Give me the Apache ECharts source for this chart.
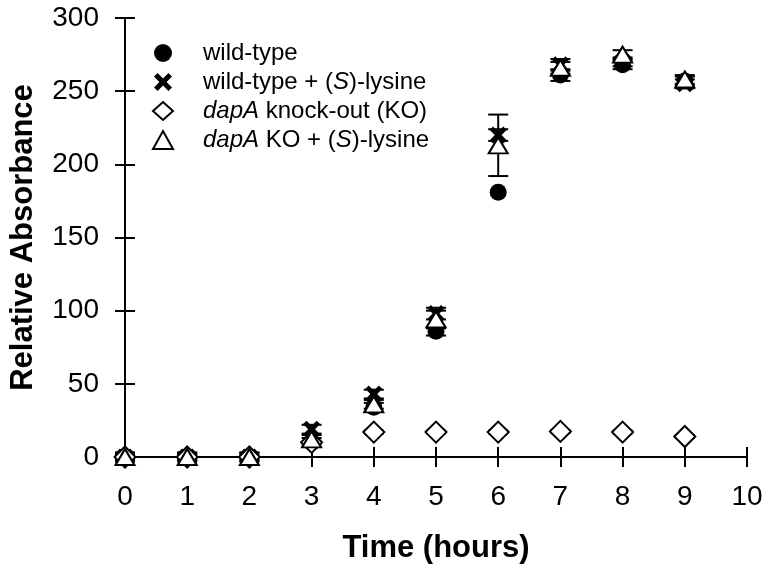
<!DOCTYPE html>
<html><head><meta charset="utf-8">
<script src="https://cdn.jsdelivr.net/npm/echarts@6/dist/echarts.min.js"></script>
<style>html,body{margin:0;padding:0;background:#fff}#c{width:770px;height:571px}</style>
</head><body><div id="c"></div>
<script>
const hours = [0,1,2,3,4,5,6,7,8,9];
const xTicks = [0,1,2,3,4,5,6,7,8,9,10];
const yTicks = [0,50,100,150,200,250,300];
const wildType      = [0,0,0,10,34,86,181,261,268,257];
const wildTypeLys   = [0,0,0,19,43,98,220,268,270,255];
const dapaKO        = [0,0,0,10,17,17,17,17.5,17,14];
const dapaKOLys     = [0,0,0,12,36,94,213,266,275,258];
const wildTypeErr    = [3,3,3,3,3,3,0,4,3,3];
const wildTypeLysErr = [3,3,3,3,3,4,4,4,3,3];
const dapaKOErr      = [0,0,0,0,1,1,1,1,1,1];
const dapaKOLysErr   = [2,2,2,3,3,6,21,4,3,3];
const names = ['wild-type','wild-type + (S)-lysine','dapA knock-out (KO)','dapA KO + (S)-lysine'];

const FONT = '"Liberation Sans", Arial, sans-serif';
const pts = a => hours.map((h,i)=>[h,a[i]]);
const errData = (v,e) => hours.map((h,i)=>[h,v[i]-e[i],v[i]+e[i]]);
function errSeries(v,e,z){
  return {type:'custom', z:z, silent:true, data:errData(v,e),
    renderItem:function(params,api){
      const x=api.value(0), lo=api.value(1), hi=api.value(2);
      if (hi-lo<=0) return null;
      const p1=api.coord([x,lo]), p2=api.coord([x,hi]);
      const w=10, st={stroke:'#000',lineWidth:2};
      return {type:'group',children:[
        {type:'line',shape:{x1:p1[0],y1:p1[1],x2:p2[0],y2:p2[1]},style:st},
        {type:'line',shape:{x1:p1[0]-w,y1:p1[1],x2:p1[0]+w,y2:p1[1]},style:st},
        {type:'line',shape:{x1:p2[0]-w,y1:p2[1],x2:p2[0]+w,y2:p2[1]},style:st}
      ]};
    }};
}
const xPath = 'path://M0,2 L2,0 L5,3 L8,0 L10,2 L7,5 L10,8 L8,10 L5,7 L2,10 L0,8 L3,5 Z';
const axisLine = {show:true, lineStyle:{color:'#000', width:2}};
const axisTick = {show:true, inside:false, length:10, lineStyle:{color:'#000', width:2}};
const chart = echarts.init(document.getElementById('c'));
chart.setOption({
  animation:false,
  backgroundColor:'#fff',
  grid:{left:123,right:23,top:18,bottom:114,containLabel:false},
  legend:{
    orient:'vertical', left:147, top:36, itemWidth:20, itemHeight:18, itemGap:5,
    data:names, selectedMode:false,
    formatter:function(n){
      if(n===names[0]) return '{n|wild-type}';
      if(n===names[1]) return '{n|wild-type + (}{i|S}{n|)-lysine}';
      if(n===names[2]) return '{i|dapA}{n| knock-out (KO)}';
      return '{i|dapA}{n| KO + (}{i|S}{n|)-lysine}';
    },
    textStyle:{fontFamily:FONT,fontSize:24,color:'#000',padding:[0,0,0,25],
      rich:{n:{fontFamily:FONT,fontSize:24,color:'#000'},
            i:{fontFamily:FONT,fontSize:24,color:'#000',fontStyle:'italic'}}}
  },
  xAxis:[
    {type:'value',position:'bottom',min:0,max:10,interval:1,
     axisLine:axisLine,axisTick:axisTick,splitLine:{show:false},
     axisLabel:{fontFamily:FONT,fontSize:28,color:'#000',margin:26,
       formatter:v=>xTicks.includes(v)?String(v):''},
     name:'Time (hours)',nameLocation:'middle',nameGap:76,
     nameTextStyle:{fontFamily:FONT,fontSize:31,fontWeight:'bold',color:'#000'}},
    {type:'value',position:'top',min:0,max:10,interval:1,
     axisLine:axisLine,axisTick:axisTick,splitLine:{show:false},axisLabel:{show:false}}
  ],
  yAxis:[
    {type:'value',position:'left',min:0,max:300,interval:50,
     axisLine:axisLine,axisTick:axisTick,splitLine:{show:false},
     axisLabel:{fontFamily:FONT,fontSize:28,color:'#000',margin:26,
       formatter:v=>yTicks.includes(v)?String(v):''},
     name:'Relative Absorbance',nameLocation:'middle',nameGap:86,
     nameTextStyle:{fontFamily:FONT,fontSize:31,fontWeight:'bold',color:'#000'}},
    {type:'value',position:'right',min:0,max:300,interval:50,
     axisLine:axisLine,axisTick:axisTick,splitLine:{show:false},axisLabel:{show:false}}
  ],
  series:[
    errSeries(wildType,wildTypeErr,1),
    errSeries(wildTypeLys,wildTypeLysErr,1),
    errSeries(dapaKO,dapaKOErr,1),
    errSeries(dapaKOLys,dapaKOLysErr,1),
    {name:names[0],type:'scatter',z:2,data:pts(wildType),symbol:'circle',symbolSize:17,
     itemStyle:{color:'#000',borderColor:'#000',borderWidth:0,opacity:1}},
    {name:names[1],type:'scatter',z:3,data:pts(wildTypeLys),symbol:xPath,symbolSize:17,
     itemStyle:{color:'#000',borderColor:'#000',borderWidth:0,opacity:1}},
    {name:names[2],type:'scatter',z:4,data:pts(dapaKO),symbol:'diamond',symbolSize:21,
     itemStyle:{color:'#fff',borderColor:'#000',borderWidth:2,opacity:1}},
    {name:names[3],type:'scatter',z:5,data:pts(dapaKOLys),symbol:'triangle',symbolSize:[19,16],
     itemStyle:{color:'#fff',borderColor:'#000',borderWidth:2,opacity:1}}
  ]
});
</script></body></html>
